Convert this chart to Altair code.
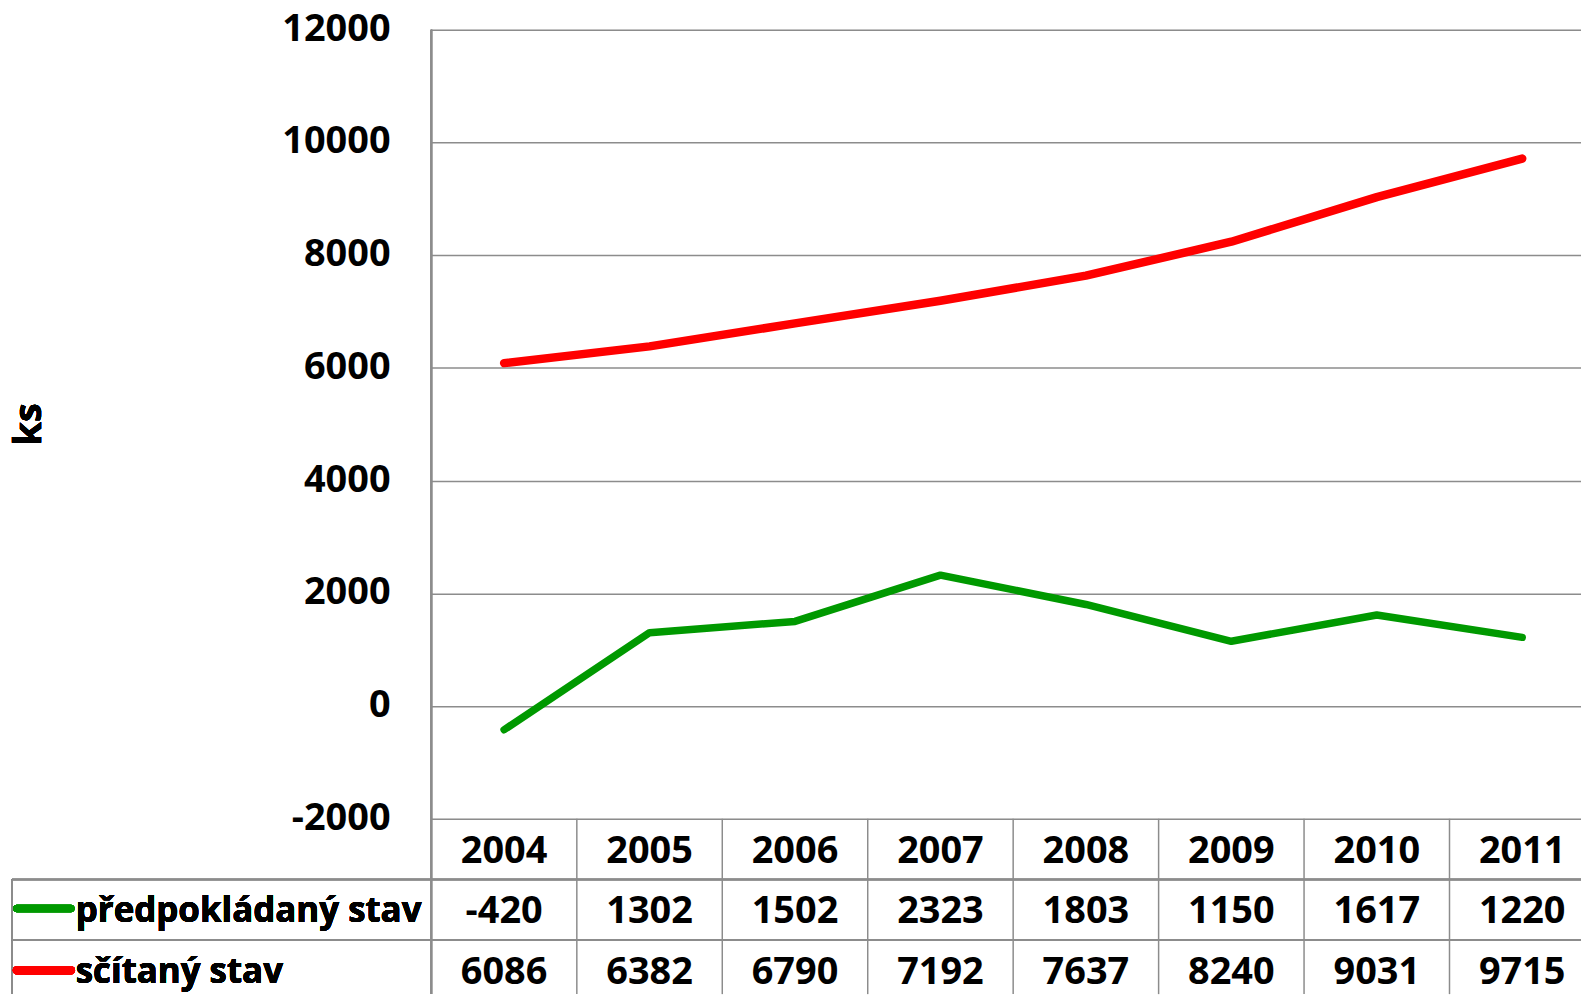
import altair as alt
import pandas as pd

years = [2004, 2005, 2006, 2007, 2008, 2009, 2010, 2011]
predpokladany = [-420, 1302, 1502, 2323, 1803, 1150, 1617, 1220]
scitany = [6086, 6382, 6790, 7192, 7637, 8240, 9031, 9715]
series_names = ["předpokládaný stav", "sčítaný stav"]
y_ticks = [-2000, 0, 2000, 4000, 6000, 8000, 10000, 12000]
y_title = "ks"

GREEN = "#009900"
RED = "#ff0000"
GRID = "#8c8c8c"
FONT = "Open Sans"
FS = 38
FS_LEG = 35

W = 1154
H = 792
BOTTOM = 968

df_pred = pd.DataFrame({"year": years, "value": predpokladany, "label": [str(v) for v in predpokladany]})
df_scit = pd.DataFrame({"year": years, "value": scitany, "label": [str(v) for v in scitany]})
df_years = pd.DataFrame({"year": years, "label": [str(y) for y in years]})
df_bounds = pd.DataFrame({"year": [y + 0.5 for y in years[:-1]]})
df_ticks = pd.DataFrame({"value": y_ticks, "label": [str(v) for v in y_ticks]})

xscale = alt.Scale(domain=[2003.5, 2011.5], range=[0, 1168], nice=False, zero=False)
yscale = alt.Scale(domain=[-2000, 12000], nice=False, zero=False)
X = alt.X("year:Q", scale=xscale, axis=None)

pred_line = alt.Chart(df_pred).mark_line(
    color=GREEN, strokeWidth=7.5, strokeCap="round", strokeJoin="round"
).encode(
    x=X,
    y=alt.Y("value:Q", scale=yscale, axis=alt.Axis(
        values=y_ticks, grid=True, gridColor=GRID, gridWidth=1.5,
        domain=False, ticks=False, labels=False, title=None)),
)
scit_line = alt.Chart(df_scit).mark_line(
    color=RED, strokeWidth=8.5, strokeCap="round", strokeJoin="round"
).encode(x=X, y=alt.Y("value:Q", scale=yscale))

rule_style = dict(color=GRID, strokeWidth=1.5)
axis_line = alt.Chart(df_years).mark_rule(**rule_style).encode(
    x=alt.value(0), y=alt.value(0), y2=alt.value(BOTTOM))
legend_border = alt.Chart(df_years).mark_rule(**rule_style).encode(
    x=alt.value(-421), y=alt.value(853), y2=alt.value(BOTTOM))
row1 = alt.Chart(df_years).mark_rule(**rule_style).encode(
    x=alt.value(-421), x2=alt.value(W), y=alt.value(853))
row2 = alt.Chart(df_years).mark_rule(**rule_style).encode(
    x=alt.value(-421), x2=alt.value(W), y=alt.value(914))
col_rules = alt.Chart(df_bounds).mark_rule(**rule_style).encode(
    x=X, y=alt.value(H), y2=alt.value(BOTTOM))

TXT = dict(font=FONT, fontWeight="bold", baseline="middle", color="black")
txt = dict(TXT, fontSize=FS, align="center")

tick_text = alt.Chart(df_ticks).mark_text(**dict(TXT, fontSize=FS, align="right")).encode(
    x=alt.value(-41), y=alt.Y("value:Q", scale=yscale), text="label:N")
year_text = alt.Chart(df_years).mark_text(**txt).encode(x=X, y=alt.value(825), text="label:N")
pred_text = alt.Chart(df_pred).mark_text(**txt).encode(x=X, y=alt.value(886), text="label:N")
scit_text = alt.Chart(df_scit).mark_text(**txt).encode(x=X, y=alt.value(947), text="label:N")

leg_green = alt.Chart(df_years).mark_rule(color=GREEN, strokeWidth=7.5, strokeCap="round").encode(
    x=alt.value(-416), x2=alt.value(-362), y=alt.value(882))
leg_red = alt.Chart(df_years).mark_rule(color=RED, strokeWidth=8.5, strokeCap="round").encode(
    x=alt.value(-416), x2=alt.value(-362), y=alt.value(944))
leg_t1 = alt.Chart(df_years).mark_text(**dict(TXT, fontSize=FS_LEG, align="left")).encode(
    x=alt.value(-357), y=alt.value(885), text=alt.value(series_names[0]))
leg_t2 = alt.Chart(df_years).mark_text(**dict(TXT, fontSize=FS_LEG, align="left")).encode(
    x=alt.value(-357), y=alt.value(946), text=alt.value(series_names[1]))

title_t = alt.Chart(df_years).mark_text(**dict(TXT, fontSize=FS, align="center", angle=270)).encode(
    x=alt.value(-403), y=alt.value(396), text=alt.value(y_title))

chart = alt.layer(
    pred_line, scit_line, axis_line, legend_border, row1, row2, col_rules, tick_text,
    year_text, pred_text, scit_text, leg_green, leg_red, leg_t1, leg_t2, title_t
).properties(
    width=W, height=H,
    autosize=alt.AutoSizeParams(type="none"),
    padding={"left": 425, "top": 20, "right": 0, "bottom": 176},
).configure_view(stroke=None).configure(background="white")

chart.save("out.html", embed_options={"renderer": "svg", "actions": False})
